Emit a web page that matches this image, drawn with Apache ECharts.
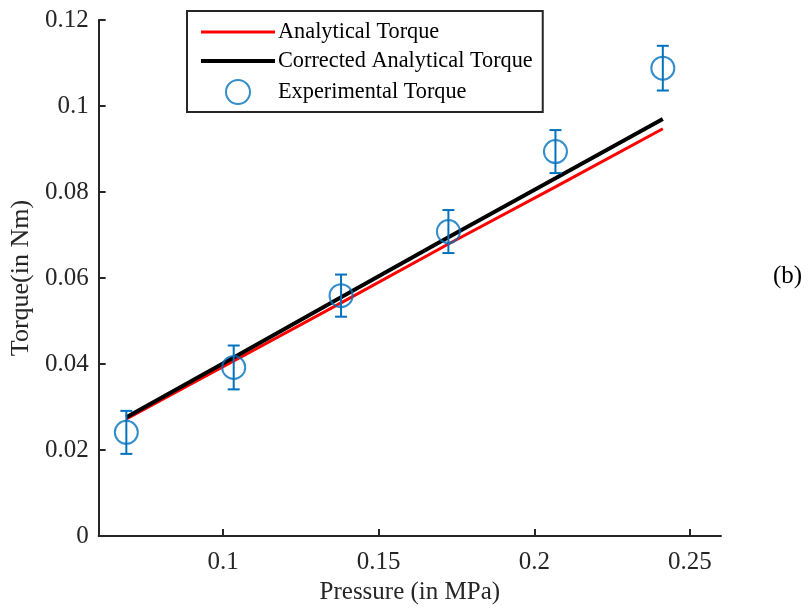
<!DOCTYPE html>
<html>
<head>
<meta charset="utf-8">
<script src="https://cdn.jsdelivr.net/npm/echarts@6/dist/echarts.min.js"></script>
<style>
html,body{margin:0;padding:0;background:#fff;}
#c{width:812px;height:613px;}
</style>
</head>
<body>
<div id="c"></div>
<script>
// Data
var pressure = [0.0689, 0.1034, 0.1379, 0.1724, 0.2068, 0.2413];      // MPa
var analyticalTorque = [0.0272, 0.0407, 0.0542, 0.0679, 0.0812, 0.0947];
var correctedTorque = [0.0276, 0.0415, 0.0555, 0.0695, 0.0832, 0.0970];
var experimentalTorque = [0.0241, 0.0392, 0.0559, 0.0708, 0.0894, 0.1088];
var experimentalError = [0.0050, 0.0051, 0.0049, 0.0050, 0.0050, 0.0052];
var xTicks = [0.1, 0.15, 0.2, 0.25];
var yTicks = [0, 0.02, 0.04, 0.06, 0.08, 0.1, 0.12];

var FONT = '"Liberation Serif","Times New Roman",serif';
var AXIS = '#262626';
var BLUE = '#0072BD';
var HIDDEN = {color:'rgba(0,0,0,0)', borderWidth:0, opacity:0};

function pairs(xs, ys){ return xs.map(function(x,i){ return [x, ys[i]]; }); }
var errData = pressure.map(function(x,i){
  return [x, experimentalTorque[i] - experimentalError[i], experimentalTorque[i] + experimentalError[i]];
});

var chart = echarts.init(document.getElementById('c'), null, {renderer:'canvas'});
chart.setOption({
  backgroundColor:'#fff',
  animation:false,
  grid:{left:97, right:91, top:20, bottom:77, containLabel:false},
  xAxis:{
    type:'value', min:0.06, max:0.26,
    name:'Pressure (in MPa)', nameLocation:'middle', nameGap:44,
    nameTextStyle:{fontFamily:FONT, fontSize:25, color:AXIS},
    axisLine:{onZero:false, lineStyle:{color:AXIS, width:2}},
    axisTick:{inside:true, length:7, customValues:xTicks, lineStyle:{color:AXIS, width:2}},
    axisLabel:{customValues:xTicks, fontFamily:FONT, fontSize:25, color:AXIS, margin:14},
    splitLine:{show:false}
  },
  yAxis:{
    type:'value', min:0, max:0.12, interval:0.02,
    name:'Torque(in Nm)', nameLocation:'middle', nameGap:60,
    nameTextStyle:{fontFamily:FONT, fontSize:26, color:AXIS},
    axisLine:{show:true, onZero:false, lineStyle:{color:AXIS, width:2}},
    axisTick:{show:true, inside:true, length:7, lineStyle:{color:AXIS, width:2}},
    axisLabel:{fontFamily:FONT, fontSize:25, color:AXIS, margin:10,
      formatter:function(v){ return String(+v.toFixed(4)); }},
    splitLine:{show:false}
  },
  legend:{
    orient:'vertical', left:187, top:11,
    padding:[10,10,7,12], itemGap:7, itemWidth:74, itemHeight:24,
    backgroundColor:'#fff', borderColor:AXIS, borderWidth:2, borderRadius:0,
    textStyle:{fontFamily:FONT, fontSize:22.3, color:'#000', padding:[0,0,0,-2]},
    lineStyle:{width:'inherit'},
    data:[
      {name:'Analytical Torque', itemStyle:HIDDEN},
      {name:'Corrected Analytical Torque', itemStyle:HIDDEN},
      {name:'Experimental Torque', icon:'circle', itemStyle:{color:'rgba(0,0,0,0)', borderColor:BLUE, borderWidth:2}}
    ]
  },
  graphic:[{
    type:'text', left:773, top:264,
    style:{text:'(b)', font:'25px ' + FONT, fill:'#000'}
  }],
  series:[
    {name:'Analytical Torque', type:'line', data:pairs(pressure, analyticalTorque),
      symbol:'none', lineStyle:{color:'#FF0000', width:3}, itemStyle:{color:'#FF0000'}, z:2},
    {name:'Corrected Analytical Torque', type:'line', data:pairs(pressure, correctedTorque),
      symbol:'none', lineStyle:{color:'#000', width:4}, itemStyle:{color:'#000'}, z:3},
    {name:'Experimental Torque', type:'scatter', data:pairs(pressure, experimentalTorque),
      symbol:'circle', symbolSize:23,
      itemStyle:{color:'rgba(0,0,0,0)', borderColor:BLUE, borderWidth:2}, z:5},
    {name:'Experimental Torque', type:'custom', data:errData, z:4,
      encode:{x:0, y:[1,2]},
      renderItem:function(params, api){
        var x = api.value(0);
        var lo = api.coord([x, api.value(1)]);
        var hi = api.coord([x, api.value(2)]);
        var w = 6;
        var st = {stroke:BLUE, lineWidth:2};
        return {type:'group', children:[
          {type:'line', shape:{x1:lo[0], y1:lo[1], x2:hi[0], y2:hi[1]}, style:st},
          {type:'line', shape:{x1:lo[0]-w, y1:lo[1], x2:lo[0]+w, y2:lo[1]}, style:st},
          {type:'line', shape:{x1:hi[0]-w, y1:hi[1], x2:hi[0]+w, y2:hi[1]}, style:st}
        ]};
      }
    }
  ]
});
</script>
</body>
</html>
